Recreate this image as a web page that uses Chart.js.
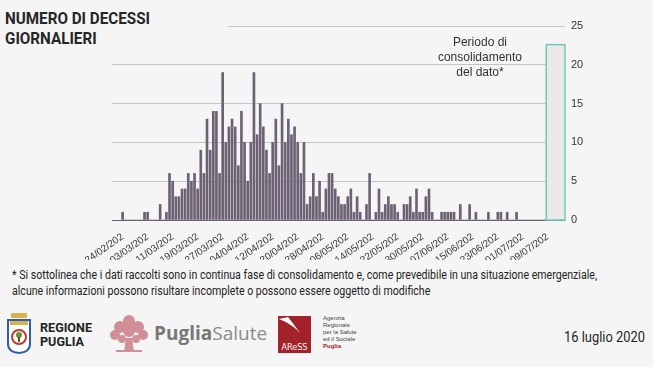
<!DOCTYPE html>
<html lang="it">
<head>
<meta charset="utf-8">
<title>Numero di decessi giornalieri</title>
<script src="https://cdn.jsdelivr.net/npm/chart.js@4.4.1/dist/chart.umd.min.js"></script>
<style>
  html, body { margin: 0; padding: 0; background: #f5f5f5; }
  body { width: 653px; height: 367px; position: relative; overflow: hidden;
         font-family: Roboto, "DejaVu Sans", sans-serif; color: #222; }
  #grafico { position: absolute; left: 0; top: 0; }
  #titolo-fondo { position: absolute; left: 0; top: 0; width: 228px; height: 56px; background: #f5f5f5; }
  #titolo { position: absolute; left: 5px; top: 8px; font-weight: bold; font-size: 17px;
            line-height: 20px; color: #262626; white-space: nowrap; transform-origin: left top; }
  #nota { position: absolute; left: 12px; top: 267px; font-size: 12px; line-height: 16px; color: #222;
          white-space: nowrap; transform-origin: left top; }
  #loghi { position: absolute; left: 0; top: 305px; }
  .regione { position: absolute; left: 40px; top: 321px; font-weight: bold; font-size: 13px; line-height: 14px;
             color: #222; white-space: nowrap; transform-origin: left top; }
  .salute { position: absolute; left: 154px; top: 320px; font-family: "Open Sans", sans-serif; font-size: 19px; color: #8a8a8a; }
  .salute b { color: #777; }
  .aress { position: absolute; left: 323px; top: 315px; font-family: "Liberation Sans", sans-serif; font-size: 6px; line-height: 7px; color: #444; }
  .aress b { color: #a3222a; }
  #data { position: absolute; left: 564px; top: 328px; font-size: 15px; color: #262626;
          white-space: nowrap; transform-origin: left top; }
</style>
</head>
<body>
<canvas id="grafico" width="653" height="265"></canvas>
<div id="titolo-fondo"></div>
<div id="titolo"><span>NUMERO DI DECESSI</span><br>GIORNALIERI</div>
<div id="nota"><span>* Si sottolinea che i dati raccolti sono in continua fase di consolidamento e, come prevedibile in una situazione emergenziale,</span><br>alcune informazioni possono risultare incomplete o possono essere oggetto di modifiche</div>

<svg id="loghi" width="653" height="62" viewBox="0 305 653 62">
  <!-- Regione Puglia -->
  <rect x="11" y="313" width="16" height="5" rx="1" fill="#d8b24a"/>
  <path d="M8 320 H30 V344 Q30 352 19 353 Q8 352 8 344 Z" fill="#fff" stroke="#2f5ea8" stroke-width="2"/>
  <rect x="10" y="321" width="18" height="4" fill="#d8b24a"/>
  <circle cx="19" cy="337" r="7" fill="#fff" stroke="#c0392b" stroke-width="2"/>
  <circle cx="19" cy="335" r="3" fill="#6f8f3a"/>
  <rect x="18" y="337" width="2" height="5" fill="#6b4b2a"/>
  <!-- Puglia Salute -->
  <g fill="#d18f98">
    <circle cx="129" cy="321" r="6"/><circle cx="120" cy="327" r="6"/><circle cx="138" cy="327" r="6"/>
    <circle cx="115" cy="335" r="5"/><circle cx="143" cy="335" r="5"/><circle cx="129" cy="331" r="6"/>
    <circle cx="122" cy="339" r="4"/><circle cx="136" cy="339" r="4"/>
    <path d="M126 338 H132 L134 352 H124 Z"/>
    <rect x="116" y="350" width="26" height="2"/>
  </g>
  <!-- AReSS -->
  <rect x="278" y="316" width="33" height="37" fill="#a3222a"/>
  <path d="M279 319 Q292 324 300 333 Q292 322 288 317 Z" fill="#fff"/>
  <text x="294.5" y="350" font-family="DejaVu Sans Condensed, sans-serif" font-size="9" fill="#fff" text-anchor="middle">AReSS</text>
</svg>
<div class="regione"><span>REGIONE</span><br>PUGLIA</div>
<div class="salute"><b>Puglia</b>Salute</div>
<div class="aress">Agenzia<br>Regionale<br>per la Salute<br>ed il Sociale<br><b>Puglia</b></div>
<div id="data"><span>16 luglio 2020</span></div>

<script>
// decessi giornalieri, un valore per giorno dal 24/02/2020 al 14/07/2020
const decessi = [
  1, 0, 0, 0, 0, 0, 0, 1, 1, 0,
  0, 0, 2, 0, 1, 6, 5, 3, 3, 4,
  4, 6, 5, 6, 4, 9, 6, 13, 9, 14,
  14, 6, 19, 10, 12, 13, 12, 7, 14, 10,
  5, 10, 19, 11, 15, 12, 9, 6, 10, 13,
  7, 15, 10, 13, 11, 12, 10, 6, 10, 2,
  3, 6, 3, 5, 1, 4, 6, 6, 4, 3,
  2, 2, 3, 4, 1, 3, 1, 0, 2, 6,
  0, 1, 4, 1, 2, 3, 2, 2, 1, 0,
  2, 2, 3, 1, 4, 1, 1, 3, 4, 1,
  0, 0, 1, 1, 1, 1, 1, 0, 2, 0,
  0, 2, 0, 1, 0, 0, 0, 1, 0, 0,
  1, 1, 0, 1, 0, 0, 1, 0, 0, 0,
  0, 0, 0, 0, 0, 0, 0, 0, 0, 0,
  0, 0
];

// giorni (dal 24/02) che portano un'etichetta, e le etichette come appaiono
const tickGiorni = [0, 8, 16, 24, 32, 40, 48, 56, 64, 72, 80, 88, 96, 104, 112, 120, 128, 136];
const tickEtichette = [
  "24/02/202", "03/03/202", "11/03/202", "19/03/202", "27/03/202", "04/04/202",
  "12/04/202", "20/04/202", "28/04/202", "06/05/202", "14/05/202", "22/05/202",
  "30/05/202", "07/06/202", "15/06/202", "23/06/202", "01/07/202", "09/07/202"
];
const tickY = [0, 5, 10, 15, 20, 25];

// periodo di consolidamento del dato (giorni) e altezza del riquadro
const consolidamentoDa = 136;
const consolidamentoA = 141;
const consolidamentoLivello = 22.6;
const notaConsolidamento = ["Periodo di", "consolidamento", "del dato*"];

// stringe un blocco di testo in orizzontale finché la prima riga è larga quanto serve
function stringi(id, larghezza) {
  const el = document.getElementById(id);
  const riga = el.querySelector("span");
  const w = riga.getBoundingClientRect().width;
  el.style.transform = "scaleX(" + (larghezza / w) + ")";
}
stringi("titolo", 145);
stringi("nota", 585);
stringi("data", 81);
document.querySelectorAll(".regione").forEach(el => {
  const w = el.querySelector("span").getBoundingClientRect().width;
  el.style.transform = "scaleX(" + (52 / w) + ")";
});

const periodoPlugin = {
  id: "periodo",
  afterDatasetsDraw(chart) {
    const { ctx } = chart;
    const x = chart.scales.x, y = chart.scales.y;
    const x0 = x.getPixelForValue(consolidamentoDa - 0.5);
    const x1 = x.getPixelForValue(consolidamentoA + 0.5);
    const y0 = y.getPixelForValue(consolidamentoLivello);
    const y1 = y.getPixelForValue(0);
    ctx.save();
    ctx.fillStyle = "#e9e9e9";
    ctx.fillRect(x0, y0, x1 - x0, y1 - y0);
    ctx.strokeStyle = "#74c7b8";
    ctx.lineWidth = 1.5;
    ctx.strokeRect(x0, y0, x1 - x0, y1 - y0);

    ctx.font = '12px "Liberation Sans", Arial, sans-serif';
    ctx.fillStyle = "#333";
    ctx.textAlign = "center";
    ctx.textBaseline = "middle";
    const cx = x.getPixelForValue(114.3);
    notaConsolidamento.forEach((riga, i) => {
      ctx.fillText(riga, cx, y.getPixelForValue(22.8 - i * 1.9));
    });
    ctx.restore();
  }
};

const config = {
  type: "bar",
  data: {
    datasets: [{
      label: "Decessi",
      data: decessi.map((v, i) => ({ x: i, y: v })),
      backgroundColor: "#6c6273",
      borderWidth: 0,
      barThickness: 2
    }]
  },
  options: {
    responsive: false,
    animation: false,
    layout: { padding: { left: 112, top: 26, right: 53, bottom: 5 } },
    plugins: {
      legend: { display: false },
      tooltip: { enabled: false }
    },
    scales: {
      x: {
        type: "linear",
        min: -3.4,
        max: 141.5,
        offset: false,
        grid: { display: false },
        border: { display: false },
        afterBuildTicks: (s) => { s.ticks = tickGiorni.map(v => ({ value: v })); },
        afterFit: (s) => { s.height = 40; },
        ticks: {
          autoSkip: false,
          minRotation: 35,
          maxRotation: 35,
          padding: 3,
          color: "#333",
          font: { family: "Liberation Sans, Arial, sans-serif", size: 10 },
          callback: (v) => {
            const i = tickGiorni.indexOf(v);
            return i >= 0 ? tickEtichette[i] : "";
          }
        }
      },
      y: {
        position: "right",
        min: 0,
        max: 25,
        afterBuildTicks: (s) => { s.ticks = tickY.map(v => ({ value: v })); },
        afterFit: (s) => { s.width = 35; },
        border: { display: false },
        grid: {
          drawTicks: false,
          lineWidth: 1,
          color: (c) => c.tick && c.tick.value === 0 ? "#6c6273" : "#c4c4c4"
        },
        ticks: {
          padding: 6,
          color: "#333",
          font: { family: "Liberation Sans, Arial, sans-serif", size: 11 }
        }
      }
    }
  },
  plugins: [periodoPlugin]
};

new Chart(document.getElementById("grafico"), config);
</script>
</body>
</html>
